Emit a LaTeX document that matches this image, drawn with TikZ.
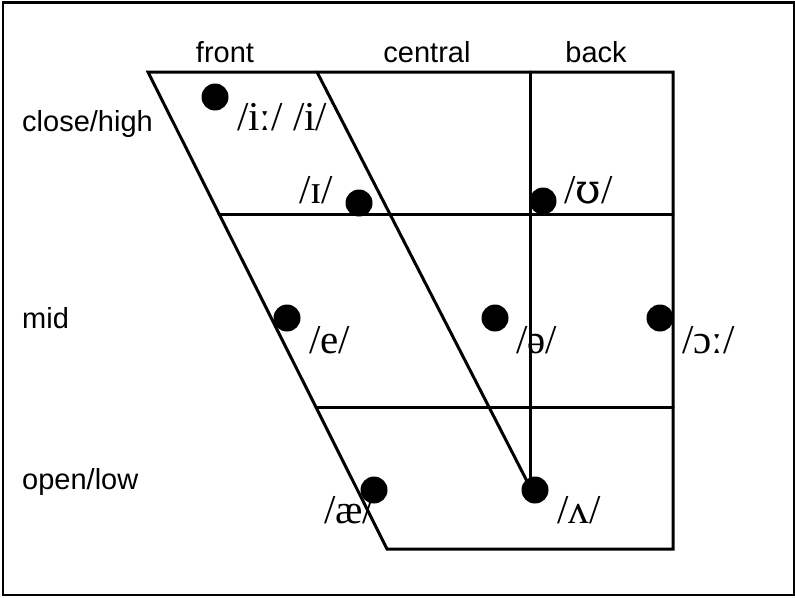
\documentclass[tikz,border=0pt]{standalone}
\usepackage{fontspec}
\setmainfont{Liberation Serif}
\newfontfamily\labelfont{Liberation Sans}
\newfontfamily\ipaalt{DejaVu Serif}
\begin{document}
\begin{tikzpicture}[x=1pt,y=-1pt,
  chart/.style={line width=3pt,line cap=round},
  dot/.style={circle,fill=black,inner sep=0pt,minimum size=27pt},
  ipa/.style={inner sep=0pt,font=\fontsize{41}{41}\selectfont,anchor=west},
  axis/.style={inner sep=0pt,font=\labelfont\fontsize{29}{29}\selectfont}]
\useasboundingbox (0,0) rectangle (795,597);
\draw[line width=2.5pt] (3,2.5) rectangle (794,595);
% chart frame
\coordinate (TL) at (148,72);
\coordinate (TC) at (317,72);
\coordinate (TB) at (530,72);
\coordinate (TR) at (673,72);
\coordinate (BL) at (387,549);
\coordinate (BR) at (673,549);
\coordinate (H1L) at (219,214);
\coordinate (H1R) at (673,214);
\coordinate (H2L) at (316,407);
\coordinate (H2R) at (673,407);
\coordinate (CE) at (530,487);
\draw[chart] (TL) -- (TR) -- (BR) -- (BL) -- cycle;
\draw[chart] (TC) -- (CE);
\draw[chart] (TB) -- (CE);
\draw[chart] (H1L) -- (H1R);
\draw[chart] (H2L) -- (H2R);
% axis labels
\node[axis] (front) at (225,52) {front};
\node[axis] (central) at (427,52) {central};
\node[axis] (back) at (596,52) {back};
\node[axis,anchor=west] (close) at (22,124) {close/high};
\node[axis,anchor=west] (mid) at (22,318) {mid};
\node[axis,anchor=west] (open) at (22,482) {open/low};
% dots
\node[dot] (d1) at (215,97) {};
\node[dot] (d2) at (359,203) {};
\node[dot] (d3) at (543,201) {};
\node[dot] (d4) at (287,318) {};
\node[dot] (d5) at (495,318) {};
\node[dot] (d6) at (660,318) {};
\node[dot] (d7) at (374,490) {};
\node[dot] (d8) at (535,490) {};
% vowel labels
\node[ipa] (l1) at (237,117) {/iː/ /i/};
\node[ipa] (l2) at (299,190) {/ɪ/};
\node[ipa] (l3) at (564,190) {/{\ipaalt ʊ}/};
\node[ipa] (l4) at (309,340) {/e/};
\node[ipa] (l5) at (516,340) {/ə/};
\node[ipa] (l6) at (682,340) {/ɔː/};
\node[ipa] (l7) at (324,510) {/æ/};
\node[ipa] (l8) at (557,510) {/ʌ/};
\end{tikzpicture}
\end{document}
